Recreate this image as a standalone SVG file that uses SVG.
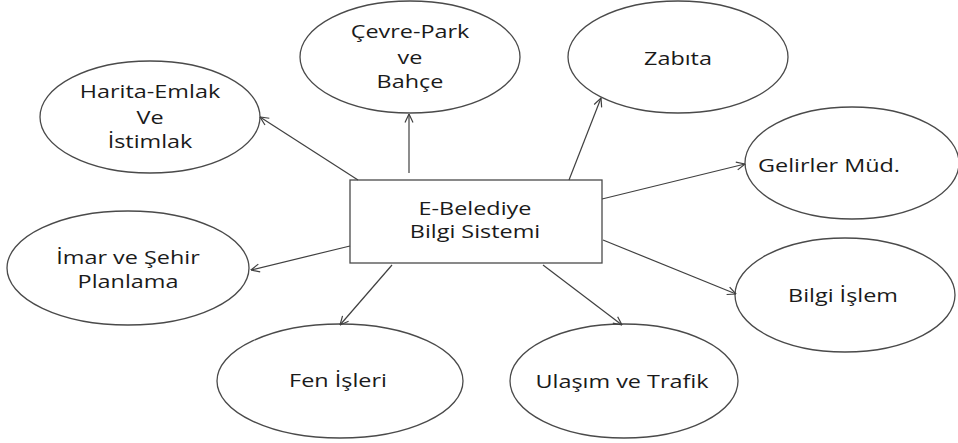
<svg xmlns="http://www.w3.org/2000/svg" width="958" height="443" viewBox="0 0 958 443">
<style>
.n ellipse,.n rect{fill:#fff;stroke:#4a4a4a;stroke-width:1.3}
.n text{font-family:"Open Sans","Liberation Sans",sans-serif;font-size:18px;fill:#1a1a1a;text-anchor:middle}
.c line{stroke:#404040;stroke-width:1.2;marker-end:url(#a)}
</style>
<defs>
<marker id="a" viewBox="0 0 10 10" refX="9.5" refY="5" markerWidth="10" markerHeight="10" markerUnits="userSpaceOnUse" orient="auto">
<path d="M1,1 L9.5,5 L1,9" fill="none" stroke="#404040" stroke-width="1.2"/>
</marker>
</defs>
<rect width="958" height="443" fill="#fff"/>
<g id="harita" class="n"><ellipse cx="150" cy="117" rx="110" ry="56"/>
<text transform="translate(150 0) scale(1.3 1)" y="98">Harita-Emlak</text>
<text transform="translate(150 0) scale(1.3 1)" y="124">Ve</text>
<text transform="translate(150 0) scale(1.3 1)" y="148">İstimlak</text></g>
<g id="cevre" class="n"><ellipse cx="410" cy="57" rx="110" ry="56"/>
<text transform="translate(410 0) scale(1.3 1)" y="38">Çevre-Park</text>
<text transform="translate(410 0) scale(1.3 1)" y="64">ve</text>
<text transform="translate(410 0) scale(1.3 1)" y="88">Bahçe</text></g>
<g id="zabita" class="n"><ellipse cx="678" cy="57" rx="110" ry="56"/>
<text transform="translate(678 0) scale(1.3 1)" y="65">Zabıta</text></g>
<g id="gelirler" class="n"><ellipse cx="852" cy="163" rx="107" ry="56"/>
<text transform="translate(829 0) scale(1.3 1)" y="172">Gelirler Müd.</text></g>
<g id="ebelediye" class="n"><rect x="350" y="180" width="252" height="83"/>
<text transform="translate(475 0) scale(1.3 1)" y="215">E-Belediye</text>
<text transform="translate(475 0) scale(1.3 1)" y="238">Bilgi Sistemi</text></g>
<g id="imar" class="n"><ellipse cx="128" cy="268" rx="121" ry="57"/>
<text transform="translate(128 0) scale(1.3 1)" y="264">İmar ve Şehir</text>
<text transform="translate(128 0) scale(1.3 1)" y="288">Planlama</text></g>
<g id="fen" class="n"><ellipse cx="340" cy="381" rx="123" ry="57"/>
<text transform="translate(338 0) scale(1.3 1)" y="387">Fen İşleri</text></g>
<g id="ulasim" class="n"><ellipse cx="624" cy="381" rx="114" ry="57"/>
<text transform="translate(622 0) scale(1.3 1)" y="388">Ulaşım ve Trafik</text></g>
<g id="bilgi" class="n"><ellipse cx="845" cy="295" rx="110" ry="57"/>
<text transform="translate(843 0) scale(1.3 1)" y="302">Bilgi İşlem</text></g>
<g id="connectors" class="c">
<line x1="358" y1="180" x2="260" y2="117"/>
<line x1="409" y1="173" x2="409" y2="114"/>
<line x1="569" y1="180" x2="601" y2="98"/>
<line x1="602" y1="199" x2="745" y2="164"/>
<line x1="350" y1="246" x2="251" y2="270"/>
<line x1="392" y1="265" x2="340" y2="325"/>
<line x1="543" y1="265" x2="622" y2="325"/>
<line x1="603" y1="240" x2="736" y2="294"/>
</g>
</svg>
